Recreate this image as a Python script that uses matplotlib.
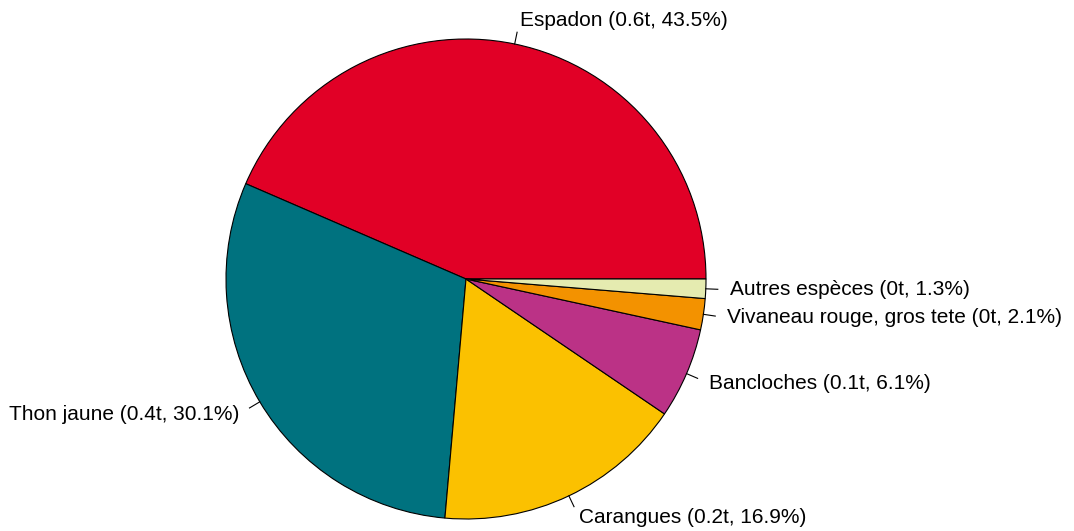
import numpy as np
import matplotlib
matplotlib.use("Agg")
import matplotlib.pyplot as plt

species = [
    "Espadon",
    "Thon jaune",
    "Carangues",
    "Bancloches",
    "Vivaneau rouge, gros tete",
    "Autres espèces",
]
tonnes = ["0.6", "0.4", "0.2", "0.1", "0", "0"]
percent = [43.5, 30.1, 16.9, 6.1, 2.1, 1.3]
colors = ["#E10026", "#00727F", "#FBC100", "#BB3286", "#F39200", "#E5EBB0"]

W, H = 1074, 531
fig = plt.figure(figsize=(W / 100, H / 100), dpi=100)
ax = fig.add_axes([0, 0, 1, 1])

cx, cy, r = 466, 252, 240
wedges, _ = ax.pie(percent, colors=colors, startangle=0, counterclock=True,
                   radius=r, center=(cx, cy), frame=True,
                   wedgeprops=dict(edgecolor="black", linewidth=0.8))
ax.set_xlim(0, W)
ax.set_ylim(0, H)
ax.set_aspect("equal")
ax.axis("off")

cum = np.cumsum([0] + percent)
for i, name in enumerate(species):
    mid = np.deg2rad((cum[i] + cum[i + 1]) / 2 / 100 * 360)
    c, s = np.cos(mid), np.sin(mid)
    ax.plot([cx + r * c, cx + 1.05 * r * c], [cy + r * s, cy + 1.05 * r * s],
            color="black", lw=0.8)
    ax.text(cx + 1.1 * r * c, cy + 1.1 * r * s,
            f"{name} ({tonnes[i]}t, {percent[i]}%)",
            ha="left" if c > 0 else "right", va="center",
            fontsize=15, family="Liberation Sans")

fig.savefig("out.png", dpi=100)
